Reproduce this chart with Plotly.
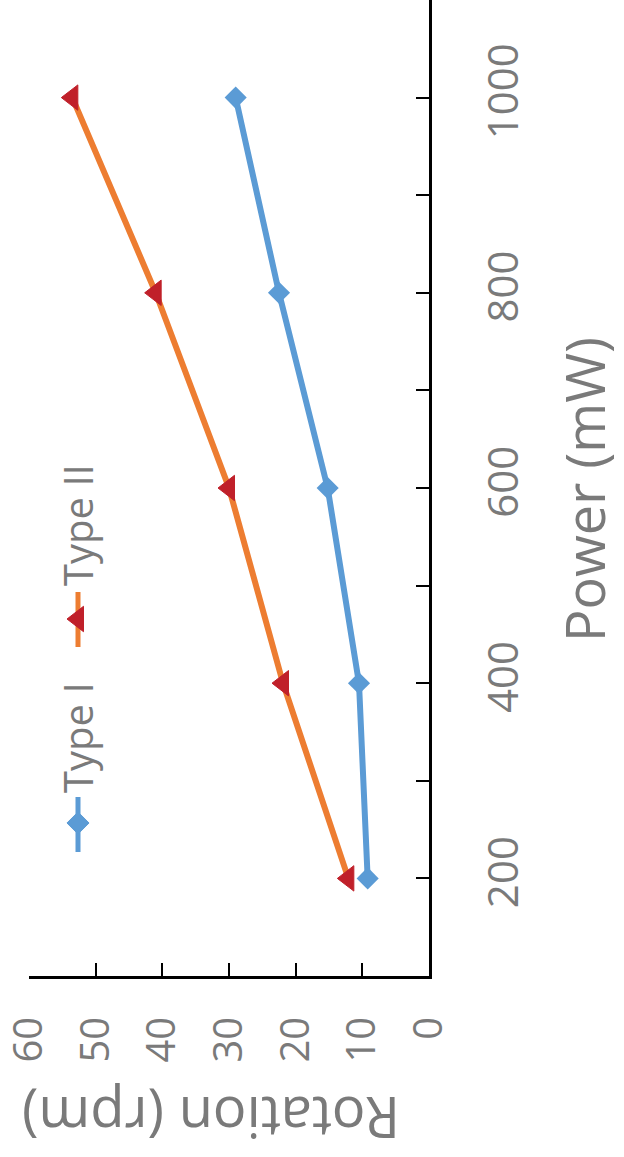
import plotly.graph_objects as go

# Power levels (mW) and measured rotation speeds (rpm)
power_mw = [200, 400, 600, 800, 1000]
type_i_rpm = [9.2, 10.5, 15.2, 22.5, 29.0]
type_ii_rpm = [12.1, 21.9, 30.0, 41.0, 53.5]
series_names = ["Type I", "Type II"]

rotation_ticks = [0, 10, 20, 30, 40, 50, 60]
power_ticks = [200, 400, 600, 800, 1000]

BLUE = "#5B9BD5"
ORANGE = "#ED7D31"
RED = "#C0202A"
GRAY = "#7a7a7a"
FONT = "Open Sans"

W, H = 624, 1157
L, R, T, B = 29, 195, 0, 181
PW, PH = W - L - R, H - T - B


def paper_x(px):
    return (px - L) / PW


def paper_y(py):
    return 1 - (py - T) / PH


fig = go.Figure()

# Chart drawn turned a quarter turn: power runs upward, rotation runs leftward
fig.add_trace(go.Scatter(
    x=type_i_rpm, y=power_mw, mode="lines+markers", name=series_names[0],
    line=dict(color=BLUE, width=6),
    marker=dict(symbol="diamond", size=17, color=BLUE),
    showlegend=False, cliponaxis=False,
))
fig.add_trace(go.Scatter(
    x=type_ii_rpm, y=power_mw, mode="lines+markers", name=series_names[1],
    line=dict(color=ORANGE, width=6),
    marker=dict(symbol="triangle-left", size=22, color=RED,
                line=dict(color=RED, width=1)),
    showlegend=False, cliponaxis=False,
))

# Legend glyphs on an overlay axis measured in page pixels
legend_x = 78
legend_rows = [
    dict(name=series_names[0], y0=797, y1=852, ym=823, text_y=738,
         line=BLUE, sym="diamond", size=17, mcol=BLUE),
    dict(name=series_names[1], y0=592, y1=647, ym=619, text_y=525,
         line=ORANGE, sym="triangle-left", size=22, mcol=RED),
]
for row in legend_rows:
    fig.add_trace(go.Scatter(
        x=[legend_x, legend_x], y=[row["y0"], row["y1"]], mode="lines",
        line=dict(color=row["line"], width=5), xaxis="x2", yaxis="y2",
        showlegend=False, hoverinfo="skip",
    ))
    fig.add_trace(go.Scatter(
        x=[legend_x], y=[row["ym"]], mode="markers",
        marker=dict(symbol=row["sym"], size=row["size"], color=row["mcol"],
                    line=dict(color=row["mcol"], width=1)),
        xaxis="x2", yaxis="y2", showlegend=False, hoverinfo="skip",
    ))

annotations = []
for row in legend_rows:
    annotations.append(dict(
        x=paper_x(legend_x - 1), y=paper_y(row["text_y"]),
        xref="paper", yref="paper",
        text=row["name"], textangle=-90, showarrow=False,
        xanchor="center", yanchor="middle", borderpad=0,
        font=dict(family=FONT, size=40, color=GRAY),
    ))

# Axis titles, turned with the chart
annotations.append(dict(
    x=paper_x(584), y=paper_y(490), xref="paper", yref="paper",
    text="Power (mW)", textangle=-90,
    showarrow=False, xanchor="center", yanchor="middle", borderpad=0,
    font=dict(family=FONT, size=54, color=GRAY),
))
annotations.append(dict(
    x=paper_x(211), y=paper_y(1119), xref="paper", yref="paper",
    text="Rotation (rpm)", textangle=180,
    showarrow=False, xanchor="center", yanchor="middle", borderpad=0,
    font=dict(family=FONT, size=56, color=GRAY),
))

fig.update_layout(
    width=W, height=H,
    margin=dict(l=L, r=R, t=T, b=B),
    paper_bgcolor="white", plot_bgcolor="white",
    font=dict(family=FONT, color=GRAY),
    annotations=annotations,
    xaxis=dict(
        range=[60, 0], tickmode="array", tickvals=rotation_ticks,
        ticks="inside", ticklen=13, tickwidth=2, tickcolor="black",
        showline=True, linecolor="black", linewidth=2.5,
        showgrid=False, zeroline=False, tickangle=-90,
        tickfont=dict(family=FONT, size=40, color=GRAY),
        ticklabelstandoff=22, ticklabeloverflow="allow",
    ),
    yaxis=dict(
        range=[100, 1100], side="right", tickmode="array", tickvals=power_ticks,
        ticks="inside", ticklen=13, tickwidth=2, tickcolor="black",
        minor=dict(ticks="inside", tick0=100, dtick=100, ticklen=13,
                   tickwidth=2, tickcolor="black", showgrid=False),
        showline=True, linecolor="black", linewidth=2.5,
        showgrid=False, zeroline=False, tickangle=-90,
        tickfont=dict(family=FONT, size=42, color=GRAY),
        ticklabelstandoff=36, ticklabeloverflow="allow",
    ),
    # overlay axes spanning the plot area, scaled in page pixels
    xaxis2=dict(range=[L, W - R], overlaying="x",
                visible=False, fixedrange=True, anchor="y2"),
    yaxis2=dict(range=[H - B, T], overlaying="y", visible=False,
                fixedrange=True, anchor="x2"),
)

fig.write_html("out.html")
